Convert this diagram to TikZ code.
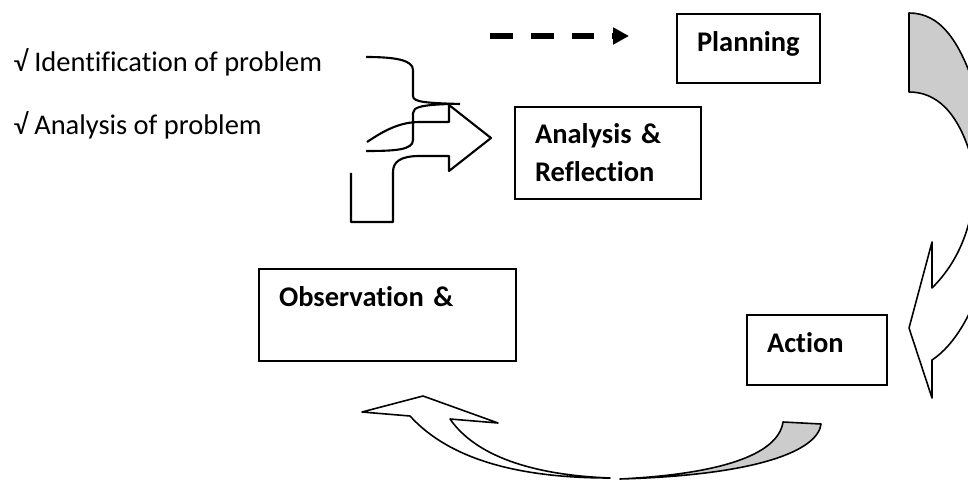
\documentclass[tikz,border=0pt]{standalone}
\usepackage{fontspec}
\setmainfont{Carlito}[Ligatures = NoCommon]
\usepackage{tikz}
\usetikzlibrary{arrows.meta}
\usetikzlibrary{positioning}
\tikzset{>=latex}
\tikzstyle{box} = [draw, line width = 0.6pt, anchor = north west, inner xsep = 0.2cm, inner ysep = 0pt, text height = 0.37cm, align = left, font = \fontsize{8.1}{10.8}\selectfont\bfseries]
\tikzstyle{note} = [anchor = base west, inner sep = 0, font = \fontsize{8.1}{10.8}\selectfont]
\tikzstyle{outline} = [line width = 0.6pt, line join = round]
\tikzstyle{blockarrow} = [draw, line width = 0.45pt, line join = round]

\begin{document}
\begin{tikzpicture}[x = 1cm, y = -1cm]
\useasboundingbox (0, 0) rectangle (9.68, 4.80);
\clip (0, 0) rectangle (9.68, 4.80);

% list on the left
\node [note] (I1) at (0.13, 0.72) {√ Identification of problem};
\node [note] (I2) at (0.13, 1.35) {√ Analysis of problem};

% stages
\node [box, text width = 1.03cm, text depth = 0.32cm] (P) at (6.76, 0.13) {Planning};
\node [box, text width = 1.46cm, text depth = 0.56cm, text height = 0.36cm] (AR) at (5.14, 1.06) {Analysis \&\\Reflection};
\node [box, text width = 2.17cm, text depth = 0.55cm] (O) at (2.58, 2.68) {Observation \&};
\node [box, text width = 1.00cm, text depth = 0.33cm] (A) at (7.46, 3.14) {Action};

% dashed pointer
\coordinate (D0) at (4.90, 0.36);
\coordinate (D1) at (6.29, 0.36);
\draw [-{Triangle[length = 4.5pt, width = 4.6pt]}, line width = 1.6pt, dash pattern = on 6.5pt off 5.1pt] (D0) to (D1);

% bent arrow
\draw [outline] (3.66, 0.57) .. controls (3.95, 0.57) and (4.13, 0.60) .. (4.13, 0.70) -- (4.13, 0.96) .. controls (4.13, 1.02) and (4.25, 1.03) .. (4.60, 1.04);
\draw [outline] (3.66, 1.51) .. controls (3.95, 1.51) and (4.13, 1.50) .. (4.13, 1.40) -- (4.13, 1.13) .. controls (4.13, 1.07) and (4.22, 1.05) .. (4.49, 1.04);
\draw [outline] (3.67, 1.42) .. controls (3.85, 1.30) and (4.00, 1.22) .. (4.20, 1.22) -- (4.49, 1.22) -- (4.49, 1.05) -- (4.91, 1.38) -- (4.49, 1.71) -- (4.49, 1.56) -- (4.20, 1.56) .. controls (4.00, 1.56) and (3.93, 1.62) .. (3.93, 1.72) -- (3.93, 2.22) -- (3.51, 2.22) -- (3.51, 1.73);

% right curved arrow
\filldraw [blockarrow, fill = gray!40] (9.09, 0.13) -- (9.09, 0.92) .. controls (9.35, 0.92) and (9.58, 1.10) .. (9.72, 1.60) -- (10.1, 1.60) -- (10.1, 0.50) -- (9.80, 1.05) .. controls (9.62, 0.40) and (9.40, 0.13) .. (9.09, 0.13) -- cycle;
\filldraw [blockarrow, fill = white] (9.75, 1.90) .. controls (9.70, 2.35) and (9.55, 2.65) .. (9.32, 2.88) -- (9.32, 2.42) -- (9.09, 3.28) -- (9.32, 3.98) -- (9.32, 3.60) .. controls (9.55, 3.45) and (9.75, 3.10) .. (9.85, 2.70) -- (10.1, 2.70) -- (10.1, 1.90) -- cycle;

% bottom curved arrow
\filldraw [blockarrow, fill = gray!40] (7.83, 4.22) -- (8.21, 4.24) .. controls (8.18, 4.50) and (7.60, 4.75) .. (6.20, 4.79) .. controls (7.20, 4.74) and (7.78, 4.55) .. (7.83, 4.22) -- cycle;
\filldraw [blockarrow, fill = white] (4.10, 4.16) -- (3.62, 4.12) -- (4.23, 3.96) -- (4.98, 4.23) -- (4.50, 4.19) .. controls (4.75, 4.55) and (5.30, 4.75) .. (6.10, 4.78) .. controls (5.20, 4.78) and (4.50, 4.60) .. (4.10, 4.16) -- cycle;
\end{tikzpicture}
\end{document}
